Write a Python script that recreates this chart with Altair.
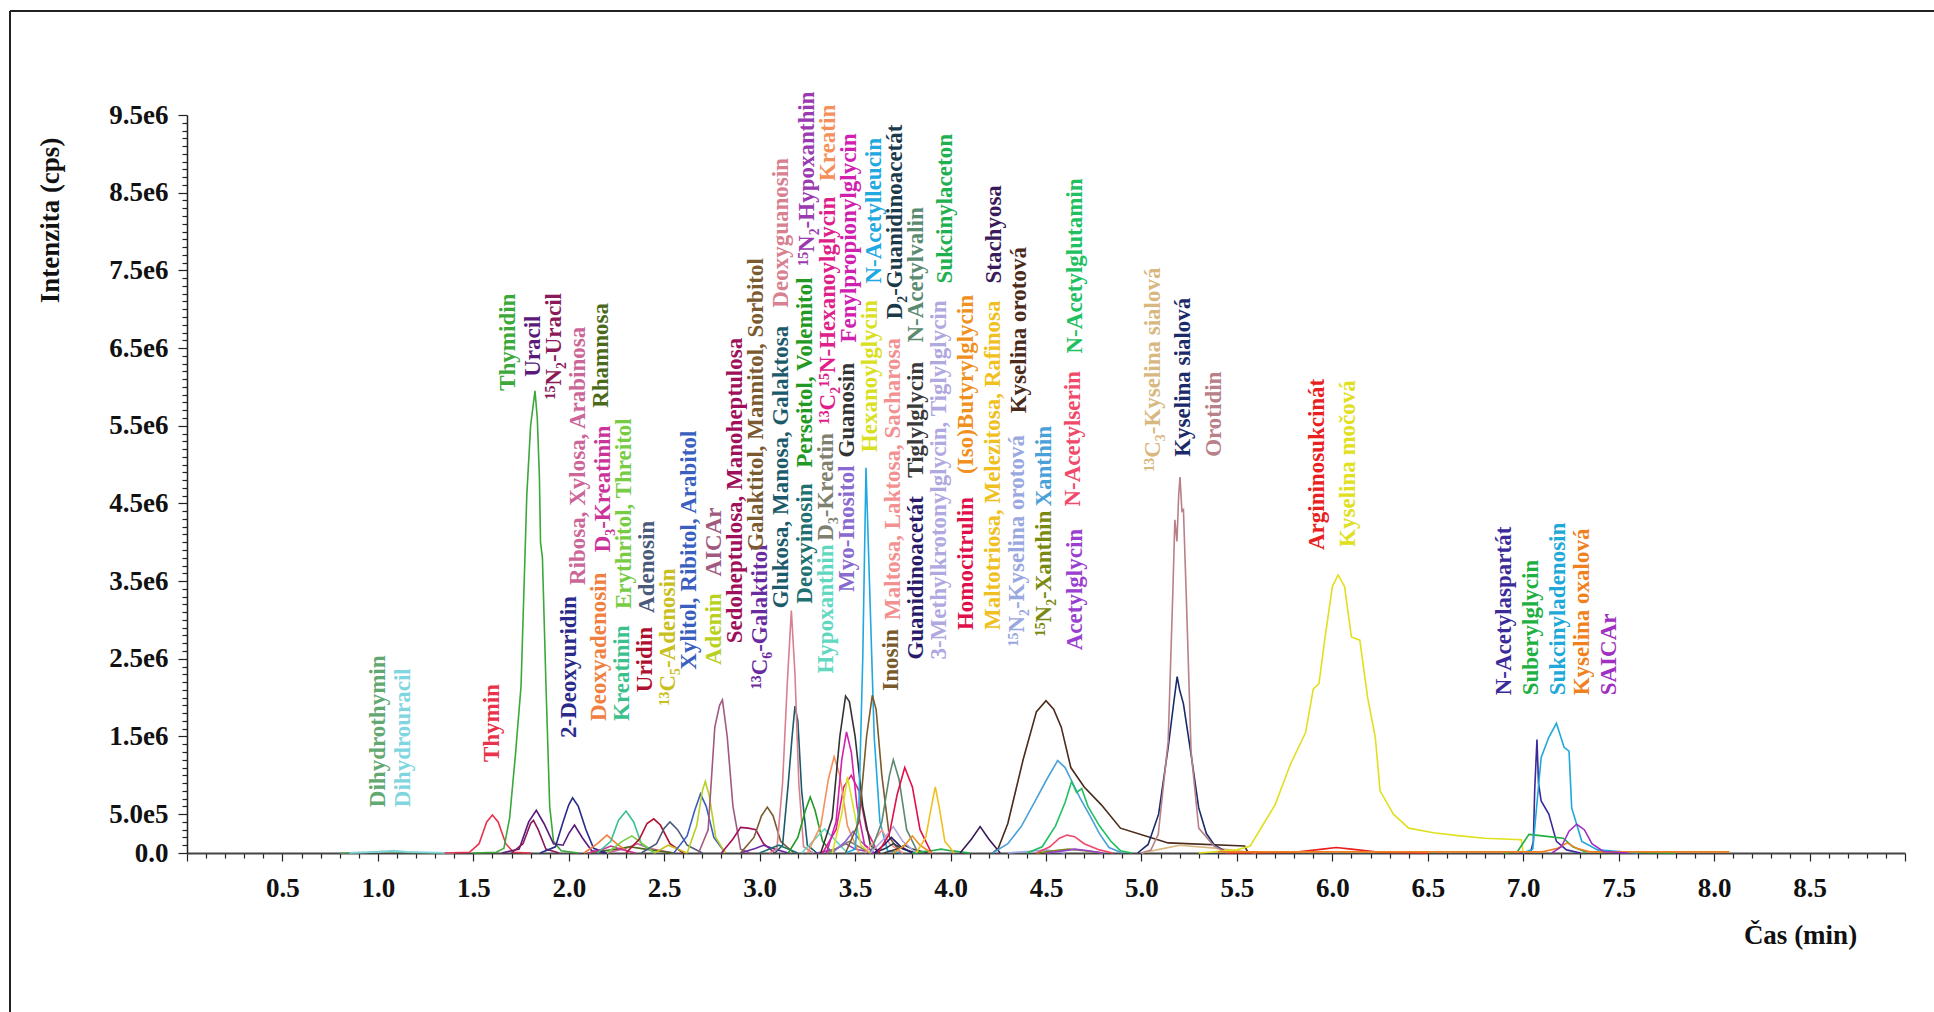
import altair as alt
import pandas as pd

FONT = "Liberation Serif"

# ---------------------------------------------------------------------------
# Compounds: printed name, colour, label anchor (retention time in min and the
# height, in 1e6 cps, where the rotated label starts)
# ---------------------------------------------------------------------------
COMPOUNDS = [
    "Dihydrothymin", "Dihydrouracil", "Thymin", "Thymidin", "Uracil",
    "¹⁵N₂-Uracil", "Ribosa, Xylosa, Arabinosa", "Rhamnosa", "2-Deoxyuridin",
    "Deoxyadenosin", "D₃-Kreatinin", "Kreatinin", "Erythritol, Threitol",
    "Uridin", "Adenosin", "¹³C₅-Adenosin", "Xylitol, Ribitol, Arabitol",
    "Adenin", "AICAr", "Sedoheptulosa, Manoheptulosa", "¹³C₆-Galaktitol",
    "Galaktitol, Mannitol, Sorbitol", "Glukosa, Manosa, Galaktosa",
    "Deoxyguanosin", "Deoxyinosin", "Perseitol, Volemitol",
    "¹⁵N₂-Hypoxanthin", "Hypoxanthin", "D₃-Kreatin",
    "¹³C₂¹⁵N-Hexanoylglycin", "Kreatin", "Myo-Inositol", "Guanosin",
    "Fenylpropionylglycin", "Hexanoylglycin", "N-Acetylleucin", "Inosin",
    "Maltosa, Laktosa, Sacharosa", "D₂-Guanidinoacetát", "Guanidinoacetát",
    "Tiglylglycin", "N-Acetylvalin", "3-Methylkrotonylglycin, Tiglylglycin",
    "Sukcinylaceton", "Homocitrulin", "(Iso)Butyrylglycin",
    "Maltotriosa, Melezitosa, Rafinosa", "Stachyosa",
    "¹⁵N₂-Kyselina orotová", "Kyselina orotová", "¹⁵N₂-Xanthin", "Xanthin",
    "Acetylglycin", "N-Acetylserin", "N-Acetylglutamin",
    "¹³C₃-Kyselina sialová", "Kyselina sialová", "Orotidin",
    "Argininosukcinát", "Kyselina močová", "N-Acetylaspartát",
    "Suberylglycin", "Sukcinyladenosin", "Kyselina oxalová", "SAICAr",
]

COLORS = [
    "#62a872", "#7fd6df", "#e8334a", "#3ca83a", "#5a1a7a",
    "#8b1a5a", "#cc6699", "#4a6a1a", "#2a2a8a",
    "#f08040", "#cc3399", "#3cc08e", "#77cc44",
    "#b01030", "#4a5a7a", "#c8c020", "#3a5fc0",
    "#b8d020", "#a05a80", "#a0105a", "#6a2aa0",
    "#7a5a30", "#1a5a6a",
    "#d88090", "#207070", "#229922",
    "#9a3ab0", "#60d8c0", "#808070",
    "#e0208a", "#f5905a", "#8a6ad0", "#333333",
    "#d020b0", "#d8e020", "#20a8e0", "#7a5a2a",
    "#f39090", "#1a3a4a", "#2a1a6a",
    "#3a3a3a", "#5a8a70", "#b0a8e0",
    "#20b050", "#e0104a", "#f09020",
    "#f0c020", "#3a1a5a",
    "#9aa8e0", "#4a2a1a", "#7a8a10", "#4aa0d8",
    "#9a40d0", "#f04a6a", "#20c060",
    "#d8b880", "#1a2a6a", "#b88088",
    "#e82020", "#e0e020", "#3a2a9a",
    "#20b040", "#20a8d8", "#f08020", "#a030c0",
]

LABEL_TIME = [
    1.00, 1.13, 1.60, 1.68, 1.81,
    1.92, 2.05, 2.17, 2.00,
    2.16, 2.18, 2.28, 2.29,
    2.40, 2.41, 2.52, 2.63,
    2.76, 2.76, 2.87, 3.00,
    2.98, 3.11,
    3.11, 3.24, 3.24,
    3.25, 3.35, 3.35,
    3.36, 3.36, 3.46, 3.46,
    3.47, 3.58, 3.60, 3.69,
    3.70, 3.71, 3.82,
    3.82, 3.82, 3.94,
    3.97, 4.08, 4.08,
    4.22, 4.23,
    4.35, 4.36, 4.49, 4.49,
    4.65, 4.64, 4.65,
    5.06, 5.22, 5.38,
    5.92, 6.08, 6.90,
    7.04, 7.18, 7.31, 7.45,
]

LABEL_BASE = [
    0.59, 0.59, 1.17, 5.95, 6.13,
    5.84, 3.45, 5.73, 1.48,
    1.70, 3.87, 1.70, 3.14,
    2.07, 3.09, 1.90, 2.36,
    2.42, 3.56, 2.70, 2.11,
    3.89, 3.15,
    7.02, 3.21, 4.96,
    7.56, 2.31, 4.02,
    5.52, 8.65, 3.36, 5.09,
    6.57, 5.16, 7.33, 2.09,
    3.00, 6.87, 2.49,
    4.83, 6.57, 2.49,
    7.33, 2.87, 4.88,
    2.87, 7.33,
    2.66, 5.66, 2.79, 4.46,
    2.61, 4.46, 6.43,
    4.91, 5.10, 5.10,
    3.90, 3.94, 2.03,
    2.03, 2.03, 2.03, 2.03,
]

# ---------------------------------------------------------------------------
# Chromatogram traces: retention time (min) and intensity (1e6 cps)
# ---------------------------------------------------------------------------
dihydrothymin_t = [0.80, 0.95, 1.02, 1.10, 1.35]
dihydrothymin_i = [0.0, 0.01, 0.02, 0.01, 0.0]
dihydrouracil_t = [0.85, 1.00, 1.08, 1.15, 1.40]
dihydrouracil_i = [0.0, 0.015, 0.03, 0.015, 0.0]
thymin_t = [1.35, 1.48, 1.53, 1.57, 1.60, 1.63, 1.67, 1.71, 1.80]
thymin_i = [0.0, 0.01, 0.12, 0.40, 0.49, 0.40, 0.12, 0.01, 0.0]
thymidin_t = [1.50, 1.62, 1.66, 1.69, 1.72, 1.74, 1.75, 1.78, 1.80, 1.823,
              1.835, 1.846, 1.852, 1.862, 1.88, 1.90, 1.92, 1.96, 2.05]
thymidin_i = [0.0, 0.01, 0.06, 0.45, 1.25, 1.85, 2.15, 4.60, 5.50, 5.95,
              5.60, 4.85, 4.00, 3.80, 2.20, 0.60, 0.15, 0.03, 0.0]
uracil_t = [1.65, 1.74, 1.79, 1.83, 1.87, 1.92, 1.97, 2.00, 2.03, 2.07, 2.12, 2.20]
uracil_i = [0.0, 0.05, 0.40, 0.55, 0.38, 0.12, 0.10, 0.25, 0.36, 0.20, 0.03, 0.0]
n15_uracil_t = [1.70, 1.76, 1.80, 1.815, 1.84, 1.88, 1.95]
n15_uracil_i = [0.0, 0.12, 0.38, 0.42, 0.30, 0.05, 0.0]
ribosa_t = [2.20, 2.30, 2.36, 2.42, 2.55]
ribosa_i = [0.0, 0.06, 0.12, 0.06, 0.0]
rhamnosa_t = [2.10, 2.25, 2.32, 2.40, 2.55]
rhamnosa_i = [0.0, 0.05, 0.08, 0.05, 0.0]
deoxyuridin_t = [1.85, 1.93, 1.97, 2.00, 2.02, 2.05, 2.09, 2.13, 2.20]
deoxyuridin_i = [0.0, 0.08, 0.40, 0.62, 0.71, 0.60, 0.30, 0.06, 0.0]
deoxyadenosin_t = [2.08, 2.15, 2.20, 2.25, 2.32]
deoxyadenosin_i = [0.0, 0.12, 0.23, 0.12, 0.0]
d3_kreatinin_t = [2.10, 2.18, 2.22, 2.27, 2.35]
d3_kreatinin_i = [0.0, 0.05, 0.09, 0.05, 0.0]
kreatinin_t = [2.15, 2.22, 2.26, 2.30, 2.34, 2.38, 2.45]
kreatinin_i = [0.0, 0.15, 0.42, 0.54, 0.40, 0.12, 0.0]
erythritol_t = [2.20, 2.28, 2.33, 2.37, 2.45]
erythritol_i = [0.0, 0.15, 0.22, 0.15, 0.0]
uridin_t = [2.30, 2.37, 2.41, 2.445, 2.48, 2.53, 2.60]
uridin_i = [0.0, 0.18, 0.38, 0.44, 0.36, 0.12, 0.0]
adenosin_t = [2.38, 2.46, 2.50, 2.53, 2.57, 2.62, 2.70]
adenosin_i = [0.0, 0.12, 0.32, 0.40, 0.30, 0.10, 0.0]
c13_adenosin_t = [2.45, 2.52, 2.56, 2.62]
c13_adenosin_i = [0.0, 0.10, 0.06, 0.0]
xylitol_t = [2.55, 2.62, 2.66, 2.69, 2.72, 2.76, 2.82]
xylitol_i = [0.0, 0.22, 0.55, 0.76, 0.60, 0.20, 0.0]
adenin_t = [2.62, 2.67, 2.70, 2.715, 2.735, 2.77, 2.82]
adenin_i = [0.0, 0.35, 0.80, 0.92, 0.75, 0.20, 0.0]
aicar_t = [2.68, 2.73, 2.765, 2.79, 2.805, 2.83, 2.86, 2.90, 2.95]
aicar_i = [0.0, 0.30, 1.62, 1.90, 1.97, 1.50, 0.60, 0.05, 0.0]
sedoheptulosa_t = [2.80, 2.86, 2.90, 2.94, 2.98, 3.02, 3.08]
sedoheptulosa_i = [0.0, 0.18, 0.33, 0.32, 0.30, 0.12, 0.0]
c13_galaktitol_t = [2.90, 2.98, 3.02, 3.08, 3.15]
c13_galaktitol_i = [0.0, 0.06, 0.10, 0.05, 0.0]
galaktitol_t = [2.90, 2.97, 3.01, 3.04, 3.07, 3.11, 3.18]
galaktitol_i = [0.0, 0.20, 0.48, 0.59, 0.48, 0.15, 0.0]
glukosa_t = [3.08, 3.12, 3.15, 3.17, 3.185, 3.20, 3.22, 3.25, 3.30]
glukosa_i = [0.0, 0.10, 0.90, 1.50, 1.89, 1.70, 0.80, 0.10, 0.0]
deoxyguanosin_t = [3.05, 3.09, 3.12, 3.145, 3.166, 3.185, 3.205, 3.23, 3.28]
deoxyguanosin_i = [0.0, 0.05, 0.90, 2.20, 3.12, 2.30, 0.90, 0.08, 0.0]
deoxyinosin_t = [3.00, 3.06, 3.10, 3.14, 3.20]
deoxyinosin_i = [0.0, 0.06, 0.10, 0.06, 0.0]
perseitol_t = [3.15, 3.20, 3.24, 3.265, 3.29, 3.33, 3.38]
perseitol_i = [0.0, 0.20, 0.55, 0.72, 0.55, 0.15, 0.0]
n15_hypoxanthin_t = [3.30, 3.40, 3.45, 3.50, 3.60]
n15_hypoxanthin_i = [0.0, 0.05, 0.12, 0.05, 0.0]
hypoxanthin_t = [3.22, 3.29, 3.34, 3.39, 3.46]
hypoxanthin_i = [0.0, 0.18, 0.31, 0.18, 0.0]
d3_kreatin_t = [3.35, 3.42, 3.47, 3.52, 3.58]
d3_kreatin_i = [0.0, 0.08, 0.15, 0.08, 0.0]
c13_hexanoylglycin_t = [3.33, 3.40, 3.44, 3.48, 3.52, 3.56, 3.62]
c13_hexanoylglycin_i = [0.0, 0.30, 0.85, 1.00, 0.80, 0.30, 0.0]
kreatin_t = [3.25, 3.32, 3.36, 3.39, 3.42, 3.46, 3.52]
kreatin_i = [0.0, 0.35, 0.95, 1.24, 1.00, 0.35, 0.0]
inositol_t = [3.38, 3.45, 3.49, 3.53, 3.60]
inositol_i = [0.0, 0.15, 0.28, 0.15, 0.0]
guanosin_t = [3.32, 3.38, 3.42, 3.45, 3.47, 3.50, 3.54, 3.58, 3.63]
guanosin_i = [0.0, 0.45, 1.50, 2.02, 1.95, 1.50, 0.60, 0.10, 0.0]
fenylpropionylglycin_t = [3.35, 3.40, 3.43, 3.455, 3.48, 3.51, 3.55, 3.60]
fenylpropionylglycin_i = [0.0, 0.40, 1.20, 1.56, 1.30, 0.60, 0.10, 0.0]
hexanoylglycin_t = [3.38, 3.43, 3.46, 3.49, 3.53, 3.58]
hexanoylglycin_i = [0.0, 0.50, 0.98, 0.60, 0.10, 0.0]
acetylleucin_t = [3.45, 3.50, 3.52, 3.54, 3.557, 3.575, 3.60, 3.63, 3.67, 3.75]
acetylleucin_i = [0.0, 0.05, 0.60, 2.50, 4.96, 3.50, 1.50, 0.40, 0.03, 0.0]
inosin_t = [3.45, 3.52, 3.56, 3.59, 3.61, 3.64, 3.68, 3.74]
inosin_i = [0.0, 0.40, 1.50, 2.03, 1.85, 1.00, 0.20, 0.0]
maltosa_t = [3.55, 3.60, 3.64, 3.68, 3.75]
maltosa_i = [0.0, 0.15, 0.30, 0.12, 0.0]
d2_guanidinoacetat_t = [3.60, 3.66, 3.70, 3.75, 3.82]
d2_guanidinoacetat_i = [0.0, 0.06, 0.12, 0.05, 0.0]
guanidinoacetat_t = [3.60, 3.65, 3.69, 3.74, 3.80]
guanidinoacetat_i = [0.0, 0.10, 0.20, 0.08, 0.0]
tiglylglycin_t = [3.65, 3.72, 3.76, 3.80, 3.88]
tiglylglycin_i = [0.0, 0.05, 0.10, 0.05, 0.0]
acetylvalin_t = [3.58, 3.64, 3.68, 3.70, 3.73, 3.77, 3.83]
acetylvalin_i = [0.0, 0.40, 1.00, 1.20, 0.95, 0.30, 0.0]
methylkrotonylglycin_t = [3.58, 3.65, 3.70, 3.75, 3.82]
methylkrotonylglycin_i = [0.0, 0.18, 0.34, 0.15, 0.0]
sukcinylaceton_t = [3.80, 3.90, 3.95, 4.00, 4.10]
sukcinylaceton_i = [0.0, 0.03, 0.05, 0.03, 0.0]
homocitrulin_t = [3.62, 3.68, 3.72, 3.76, 3.80, 3.84, 3.90]
homocitrulin_i = [0.0, 0.25, 0.75, 1.10, 0.85, 0.30, 0.0]
butyrylglycin_t = [3.70, 3.76, 3.80, 3.84, 3.90]
butyrylglycin_i = [0.0, 0.10, 0.22, 0.10, 0.0]
maltotriosa_t = [3.82, 3.87, 3.90, 3.92, 3.94, 3.97, 4.02]
maltotriosa_i = [0.0, 0.20, 0.60, 0.85, 0.60, 0.15, 0.0]
stachyosa_t = [4.05, 4.11, 4.155, 4.20, 4.26]
stachyosa_i = [0.0, 0.18, 0.34, 0.18, 0.0]
n15_orotova_t = [4.30, 4.40, 4.50, 4.60]
n15_orotova_i = [0.0, 0.02, 0.04, 0.0]
orotova_t = [4.22, 4.25, 4.30, 4.38, 4.45, 4.50, 4.54, 4.58, 4.63, 4.70,
             4.79, 4.89, 5.06, 5.14, 5.54, 5.56]
orotova_i = [0.0, 0.06, 0.38, 1.20, 1.82, 1.96, 1.85, 1.62, 1.10, 0.85,
             0.62, 0.32, 0.19, 0.13, 0.09, 0.0]
n15_xanthin_t = [4.45, 4.55, 4.62, 4.70, 4.80]
n15_xanthin_i = [0.0, 0.03, 0.05, 0.03, 0.0]
xanthin_t = [4.22, 4.30, 4.37, 4.45, 4.50, 4.561, 4.60, 4.634, 4.68, 4.73,
             4.78, 4.83, 4.90]
xanthin_i = [0.0, 0.12, 0.34, 0.70, 0.93, 1.19, 1.10, 0.93, 0.70, 0.48,
             0.25, 0.07, 0.0]
acetylglycin_t = [4.50, 4.60, 4.65, 4.72, 4.80]
acetylglycin_i = [0.0, 0.03, 0.05, 0.03, 0.0]
acetylserin_t = [4.45, 4.52, 4.57, 4.61, 4.65, 4.70, 4.78, 4.85]
acetylserin_i = [0.0, 0.08, 0.19, 0.23, 0.21, 0.12, 0.04, 0.0]
acetylglutamin_t = [4.40, 4.48, 4.55, 4.60, 4.634, 4.66, 4.687, 4.72, 4.78,
                    4.84, 4.89, 4.95]
acetylglutamin_i = [0.0, 0.08, 0.35, 0.65, 0.92, 0.78, 0.83, 0.60, 0.35,
                    0.15, 0.03, 0.0]
c13_sialova_t = [5.00, 5.10, 5.20, 5.40, 5.60]
c13_sialova_i = [0.0, 0.05, 0.10, 0.06, 0.0]
sialova_t = [4.98, 5.035, 5.09, 5.14, 5.17, 5.187, 5.20, 5.22, 5.26, 5.30,
             5.34, 5.38, 5.45]
sialova_i = [0.0, 0.11, 0.50, 1.36, 1.95, 2.27, 2.10, 1.92, 1.27, 0.58,
             0.25, 0.11, 0.0]
orotidin_t = [5.00, 5.05, 5.088, 5.14, 5.165, 5.175, 5.186, 5.195, 5.202,
              5.212, 5.22, 5.235, 5.26, 5.30, 5.38, 5.45]
orotidin_i = [0.0, 0.04, 0.24, 1.44, 3.40, 4.29, 4.01, 4.60, 4.84,
              4.40, 4.42, 3.30, 1.31, 0.32, 0.09, 0.0]
argininosukcinat_t = [5.45, 5.80, 5.95, 6.02, 6.10, 6.25, 6.50]
argininosukcinat_i = [0.0, 0.01, 0.05, 0.07, 0.05, 0.01, 0.0]
mocova_t = [5.30, 5.50, 5.57, 5.70, 5.78, 5.86, 5.90, 5.93, 5.96, 6.00, 6.03,
            6.064, 6.10, 6.144, 6.185, 6.225, 6.25, 6.32, 6.40, 6.53, 6.67,
            6.80, 6.99, 7.00]
mocova_i = [0.0, 0.04, 0.09, 0.62, 1.14, 1.55, 2.11, 2.18, 2.74, 3.43, 3.58,
            3.43, 2.78, 2.74, 2.00, 1.49, 0.80, 0.50, 0.32, 0.26, 0.22,
            0.19, 0.17, 0.0]
acetylaspartat_t = [6.98, 7.04, 7.053, 7.06, 7.072, 7.08, 7.094, 7.134,
                    7.174, 7.227, 7.30]
acetylaspartat_i = [0.0, 0.02, 0.15, 0.80, 1.46, 0.90, 0.67, 0.50,
                    0.15, 0.04, 0.0]
suberylglycin_t = [6.90, 6.97, 7.03, 7.10, 7.21, 7.26, 7.32, 7.80]
suberylglycin_i = [0.0, 0.02, 0.24, 0.22, 0.19, 0.08, 0.02, 0.0]
sukcinyladenosin_t = [7.00, 7.05, 7.094, 7.134, 7.174, 7.214, 7.24, 7.254,
                      7.307, 7.39, 7.60]
sukcinyladenosin_i = [0.0, 0.05, 1.23, 1.49, 1.67, 1.36, 1.31, 0.58,
                      0.15, 0.04, 0.0]
oxalova_t = [5.40, 7.10, 7.18, 7.23, 7.28, 7.35, 8.08]
oxalova_i = [0.015, 0.015, 0.06, 0.13, 0.06, 0.015, 0.015]
saicar_t = [7.15, 7.20, 7.24, 7.28, 7.32, 7.36, 7.42, 7.55]
saicar_i = [0.0, 0.08, 0.28, 0.37, 0.30, 0.12, 0.02, 0.0]

TRACES = [
    ("Dihydrothymin", dihydrothymin_t, dihydrothymin_i),
    ("Dihydrouracil", dihydrouracil_t, dihydrouracil_i),
    ("Thymin", thymin_t, thymin_i),
    ("Thymidin", thymidin_t, thymidin_i),
    ("Uracil", uracil_t, uracil_i),
    ("¹⁵N₂-Uracil", n15_uracil_t, n15_uracil_i),
    ("Ribosa, Xylosa, Arabinosa", ribosa_t, ribosa_i),
    ("Rhamnosa", rhamnosa_t, rhamnosa_i),
    ("2-Deoxyuridin", deoxyuridin_t, deoxyuridin_i),
    ("Deoxyadenosin", deoxyadenosin_t, deoxyadenosin_i),
    ("D₃-Kreatinin", d3_kreatinin_t, d3_kreatinin_i),
    ("Kreatinin", kreatinin_t, kreatinin_i),
    ("Erythritol, Threitol", erythritol_t, erythritol_i),
    ("Uridin", uridin_t, uridin_i),
    ("Adenosin", adenosin_t, adenosin_i),
    ("¹³C₅-Adenosin", c13_adenosin_t, c13_adenosin_i),
    ("Xylitol, Ribitol, Arabitol", xylitol_t, xylitol_i),
    ("Adenin", adenin_t, adenin_i),
    ("AICAr", aicar_t, aicar_i),
    ("Sedoheptulosa, Manoheptulosa", sedoheptulosa_t, sedoheptulosa_i),
    ("¹³C₆-Galaktitol", c13_galaktitol_t, c13_galaktitol_i),
    ("Galaktitol, Mannitol, Sorbitol", galaktitol_t, galaktitol_i),
    ("Glukosa, Manosa, Galaktosa", glukosa_t, glukosa_i),
    ("Deoxyguanosin", deoxyguanosin_t, deoxyguanosin_i),
    ("Deoxyinosin", deoxyinosin_t, deoxyinosin_i),
    ("Perseitol, Volemitol", perseitol_t, perseitol_i),
    ("¹⁵N₂-Hypoxanthin", n15_hypoxanthin_t, n15_hypoxanthin_i),
    ("Hypoxanthin", hypoxanthin_t, hypoxanthin_i),
    ("D₃-Kreatin", d3_kreatin_t, d3_kreatin_i),
    ("¹³C₂¹⁵N-Hexanoylglycin", c13_hexanoylglycin_t, c13_hexanoylglycin_i),
    ("Kreatin", kreatin_t, kreatin_i),
    ("Myo-Inositol", inositol_t, inositol_i),
    ("Guanosin", guanosin_t, guanosin_i),
    ("Fenylpropionylglycin", fenylpropionylglycin_t, fenylpropionylglycin_i),
    ("Hexanoylglycin", hexanoylglycin_t, hexanoylglycin_i),
    ("N-Acetylleucin", acetylleucin_t, acetylleucin_i),
    ("Inosin", inosin_t, inosin_i),
    ("Maltosa, Laktosa, Sacharosa", maltosa_t, maltosa_i),
    ("D₂-Guanidinoacetát", d2_guanidinoacetat_t, d2_guanidinoacetat_i),
    ("Guanidinoacetát", guanidinoacetat_t, guanidinoacetat_i),
    ("Tiglylglycin", tiglylglycin_t, tiglylglycin_i),
    ("N-Acetylvalin", acetylvalin_t, acetylvalin_i),
    ("3-Methylkrotonylglycin, Tiglylglycin", methylkrotonylglycin_t, methylkrotonylglycin_i),
    ("Sukcinylaceton", sukcinylaceton_t, sukcinylaceton_i),
    ("Homocitrulin", homocitrulin_t, homocitrulin_i),
    ("(Iso)Butyrylglycin", butyrylglycin_t, butyrylglycin_i),
    ("Maltotriosa, Melezitosa, Rafinosa", maltotriosa_t, maltotriosa_i),
    ("Stachyosa", stachyosa_t, stachyosa_i),
    ("¹⁵N₂-Kyselina orotová", n15_orotova_t, n15_orotova_i),
    ("Kyselina orotová", orotova_t, orotova_i),
    ("¹⁵N₂-Xanthin", n15_xanthin_t, n15_xanthin_i),
    ("Xanthin", xanthin_t, xanthin_i),
    ("Acetylglycin", acetylglycin_t, acetylglycin_i),
    ("N-Acetylserin", acetylserin_t, acetylserin_i),
    ("N-Acetylglutamin", acetylglutamin_t, acetylglutamin_i),
    ("¹³C₃-Kyselina sialová", c13_sialova_t, c13_sialova_i),
    ("Kyselina sialová", sialova_t, sialova_i),
    ("Orotidin", orotidin_t, orotidin_i),
    ("Argininosukcinát", argininosukcinat_t, argininosukcinat_i),
    ("Kyselina močová", mocova_t, mocova_i),
    ("N-Acetylaspartát", acetylaspartat_t, acetylaspartat_i),
    ("Suberylglycin", suberylglycin_t, suberylglycin_i),
    ("Sukcinyladenosin", sukcinyladenosin_t, sukcinyladenosin_i),
    ("Kyselina oxalová", oxalova_t, oxalova_i),
    ("SAICAr", saicar_t, saicar_i),
]

# Axis ticks and their printed labels
Y_TICK_VALUES = [0, 500000, 1500000, 2500000, 3500000, 4500000, 5500000,
                 6500000, 7500000, 8500000, 9500000]
Y_TICK_TEXT = ["0.0", "5.0e5", "1.5e6", "2.5e6", "3.5e6", "4.5e6", "5.5e6",
               "6.5e6", "7.5e6", "8.5e6", "9.5e6"]
X_TICK_VALUES = [0.5, 1.0, 1.5, 2.0, 2.5, 3.0, 3.5, 4.0, 4.5, 5.0, 5.5, 6.0,
                 6.5, 7.0, 7.5, 8.0, 8.5]

X_TITLE = "Čas (min)"
Y_TITLE = "Intenzita (cps)"

# ---------------------------------------------------------------------------
# Tables
# ---------------------------------------------------------------------------
rows = []
for name, ts, vals in TRACES:
    for order, (t, v) in enumerate(zip(ts, vals)):
        rows.append({"name": name, "t": t, "i": v * 1e6, "order": order})
traces_df = pd.DataFrame(rows)

labels_df = pd.DataFrame({
    "name": COMPOUNDS,
    "t": LABEL_TIME,
    "i": [b * 1e6 for b in LABEL_BASE],
})

# ---------------------------------------------------------------------------
# Geometry
# ---------------------------------------------------------------------------
PLOT_W, PLOT_H = 1718, 738
PAD_L, PAD_T = 187, 115
PAD_R, PAD_B = 1934 - PAD_L - PLOT_W, 1012 - PAD_T - PLOT_H

y_minor = [k * 100000 for k in range(96)]
x_minor = [round(k * 0.1, 1) for k in range(91)]

y_label_expr = ""
for v, s in zip(Y_TICK_VALUES, Y_TICK_TEXT):
    y_label_expr += f"datum.value == {v} ? '{s}' : "
y_label_expr += "''"

x_label_expr = (
    "indexof(" + str(X_TICK_VALUES) + ", datum.value) >= 0 ? "
    "format(datum.value, '.1f') : ''"
)

x_scale = alt.Scale(domain=[0, 9.0], nice=False, zero=False)
y_scale = alt.Scale(domain=[0, 9500000], nice=False)
color_scale = alt.Scale(domain=COMPOUNDS, range=COLORS)

x_axis = alt.Axis(
    values=x_minor, labelExpr=x_label_expr, grid=False,
    title=X_TITLE, titleX=1613, titleY=82, titleAlign="center",
    titleBaseline="middle", titleAngle=0,
    titleFont=FONT, titleFontSize=27, titleFontWeight="bold", titleColor="#111",
    labelFont=FONT, labelFontSize=27, labelFontWeight="bold", labelColor="#111",
    labelPadding=14, labelFlush=False, labelOverlap=False,
    tickSize={"condition": {"test": "round(datum.value * 10) % 5 == 0", "value": 8}, "value": 5},
    tickColor="#222", tickWidth=1.2, domainColor="#444", domainWidth=2,
)
y_axis = alt.Axis(
    values=y_minor, labelExpr=y_label_expr, grid=False,
    title=Y_TITLE, titleX=-137, titleY=105, titleAlign="center",
    titleBaseline="middle", titleAngle=270,
    titleFont=FONT, titleFontSize=27, titleFontWeight="bold", titleColor="#111",
    labelFont=FONT, labelFontSize=27, labelFontWeight="bold", labelColor="#111",
    labelPadding=10, labelFlush=False, labelOverlap=False,
    tickSize={"condition": {"test": "datum.value % 1000000 == 500000 || datum.value == 0", "value": 9}, "value": 5},
    tickColor="#222", tickWidth=1.2, domainColor="#222", domainWidth=1.5,
)

lines = alt.Chart(traces_df).mark_line(strokeWidth=1.6).encode(
    x=alt.X("t:Q", scale=x_scale, axis=x_axis),
    y=alt.Y("i:Q", scale=y_scale, axis=y_axis),
    color=alt.Color("name:N", scale=color_scale, legend=None),
    detail="name:N",
    order="order:Q",
)

labels = alt.Chart(labels_df).mark_text(
    angle=270, align="left", baseline="middle",
    font=FONT, fontSize=23, fontWeight="bold",
).encode(
    x=alt.X("t:Q", scale=x_scale, axis=x_axis),
    y=alt.Y("i:Q", scale=y_scale, axis=y_axis),
    text="name:N",
    color=alt.Color("name:N", scale=color_scale, legend=None),
)

# outer frame (top and left edges of the figure)
frame_data = alt.Data(values=[{"k": 1}])
frame_top = alt.Chart(frame_data).mark_rule(color="#222", strokeWidth=2).encode(
    x=alt.value(10 - PAD_L), x2=alt.value(1934 - PAD_L), y=alt.value(11 - PAD_T),
)
frame_left = alt.Chart(frame_data).mark_rule(color="#222", strokeWidth=2).encode(
    x=alt.value(10 - PAD_L), y=alt.value(11 - PAD_T), y2=alt.value(1012 - PAD_T),
)

chart = alt.layer(lines, labels, frame_top, frame_left).properties(
    width=PLOT_W, height=PLOT_H,
    autosize=alt.AutoSizeParams(type="none"),
    padding={"left": PAD_L, "top": PAD_T, "right": PAD_R, "bottom": PAD_B},
    background="white",
).configure_view(strokeWidth=0)

chart.save("out.html", embed_options={"renderer": "svg", "actions": False})
